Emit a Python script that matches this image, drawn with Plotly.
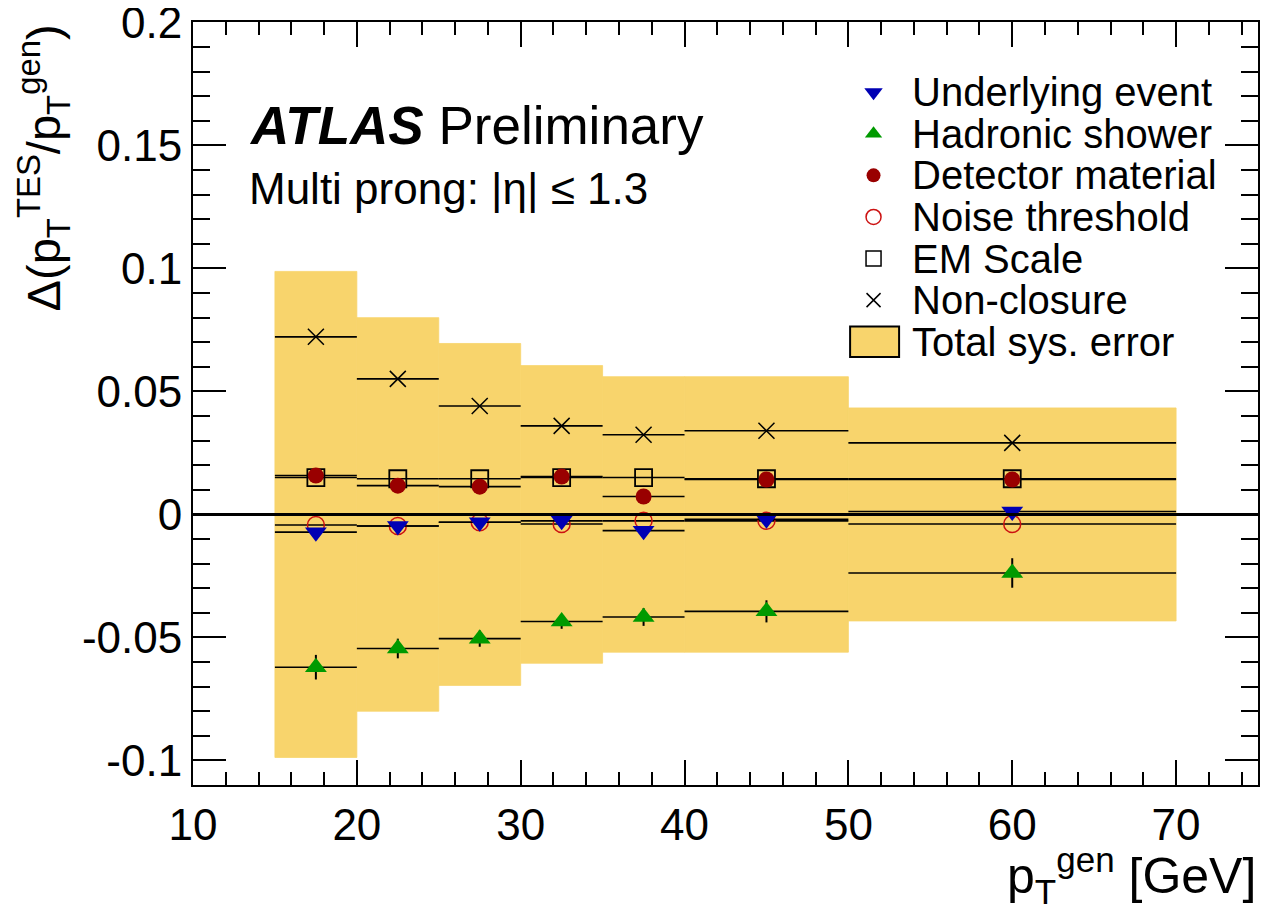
import plotly.graph_objects as go

# ---------------- data ----------------
pt_center = [17.5, 22.5, 27.5, 32.5, 37.5, 45.0, 60.0]
pt_halfwidth = [2.5, 2.5, 2.5, 2.5, 2.5, 5.0, 10.0]
pt_binwidth = [5, 5, 5, 5, 5, 10, 20]

total_sys = [0.0988, 0.0800, 0.0695, 0.0605, 0.0560, 0.0560, 0.0433]
underlying_event = [-0.0072, -0.0047, -0.0032, -0.0026, -0.0066, -0.0020, 0.0012]
hadronic_shower = [-0.0621, -0.0545, -0.0505, -0.0435, -0.0417, -0.0394, -0.0238]
hadronic_err = [0.0050, 0.0040, 0.0033, 0.0030, 0.0036, 0.0045, 0.0060]
detector_material = [0.0158, 0.0117, 0.0113, 0.0154, 0.0073, 0.0142, 0.0142]
noise_threshold = [-0.0043, -0.0047, -0.0032, -0.0039, -0.0026, -0.0026, -0.0039]
em_scale = [0.0150, 0.0145, 0.0145, 0.0150, 0.0150, 0.0145, 0.0145]
non_closure = [0.0722, 0.0551, 0.0441, 0.0360, 0.0324, 0.0340, 0.0291]

x_tickvals = [10, 20, 30, 40, 50, 60, 70]
x_ticktext = ["10", "20", "30", "40", "50", "60", "70"]
y_tickvals = [-0.1, -0.05, 0, 0.05, 0.1, 0.15, 0.2]
y_ticktext = ["-0.1", "-0.05", "0", "0.05", "0.1", "0.15", "0.2"]

legend_names = ["Underlying event", "Hadronic shower", "Detector material",
                "Noise threshold", "EM Scale", "Non-closure", "Total sys. error"]

# ---------------- style ----------------
FONT = "Liberation Sans, Arial, Helvetica, sans-serif"
BAND = "#f8d46c"
C_UE = "#0000b4"
C_HS = "#009a00"
C_DM = "#990000"
C_NT = "#cc1111"

fig = go.Figure()

# total systematic band
fig.add_trace(go.Bar(
    x=pt_center, y=[2 * v for v in total_sys], base=[-v for v in total_sys],
    width=pt_binwidth, marker=dict(color=BAND, line=dict(width=0.8, color=BAND)),
    showlegend=False, hoverinfo="skip"))

errx = dict(type="data", array=pt_halfwidth, symmetric=True, color="black",
            thickness=1.6, width=0)

def add_series(y, symbol, color, size, line_color=None, line_width=0, erry=None):
    kw = {}
    if erry is not None:
        kw["error_y"] = dict(type="data", array=erry, symmetric=True,
                             color="black", thickness=2, width=0)
    fig.add_trace(go.Scatter(
        x=pt_center, y=y, mode="markers",
        marker=dict(symbol=symbol, color=color, size=size,
                    line=dict(color=line_color or color, width=line_width)),
        error_x=errx, showlegend=False, **kw))

add_series(non_closure, "x-thin-open", "black", 16, "black", 1.5)
add_series(em_scale, "square-open", "black", 17, "black", 1.8)
add_series(detector_material, "circle", C_DM, 16)
add_series(noise_threshold, "circle-open", C_NT, 17, C_NT, 1.5)
add_series(underlying_event, "triangle-down", C_UE, 19)
add_series(hadronic_shower, "triangle-up", C_HS, 19, erry=hadronic_err)

# ---------------- hand-made legend (paper-fraction helper axes) ----------------
leg_x_key = 0.639
leg_x_text = 0.673
leg_y0 = 0.908
leg_dy = 0.0545
key_symbols = ["triangle-down", "triangle-up", "circle", "circle-open", "square-open", "x-thin-open"]
key_colors = [C_UE, C_HS, C_DM, C_NT, "black", "black"]
key_sizes = [16, 15, 14, 15, 15, 14]
for i, (sym, col, sz) in enumerate(zip(key_symbols, key_colors, key_sizes)):
    fig.add_trace(go.Scatter(
        x=[leg_x_key], y=[leg_y0 - i * leg_dy], xaxis="x2", yaxis="y2",
        mode="markers", showlegend=False, hoverinfo="skip",
        marker=dict(symbol=sym, color=col, size=sz,
                    line=dict(color=col, width=1.5 if "open" in sym else 0))))

annotations = []
for i, name in enumerate(legend_names):
    annotations.append(dict(
        x=leg_x_text, y=leg_y0 - i * leg_dy, xref="paper", yref="paper",
        text=name, showarrow=False, xanchor="left", yanchor="middle",
        font=dict(family=FONT, size=40, color="black")))

yb = leg_y0 - 6 * leg_dy
shapes = [
    dict(type="rect", xref="paper", yref="paper", x0=0.617, x1=0.663,
         y0=yb - 0.020, y1=yb + 0.020, fillcolor=BAND,
         line=dict(color="black", width=2), layer="above"),
    dict(type="line", xref="paper", yref="y", x0=0, x1=1, y0=0, y1=0,
         line=dict(color="black", width=3), layer="above"),
]

annotations += [
    dict(x=0.0507, y=0.864, xref="paper", yref="paper", xanchor="left", yanchor="middle",
         text="<b><i>ATLAS</i></b> Preliminary", showarrow=False,
         font=dict(family=FONT, size=53, color="black")),
    dict(x=0.0507, y=0.782, xref="paper", yref="paper", xanchor="left", yanchor="middle",
         text="Multi prong: |η| ≤ 1.3", showarrow=False,
         font=dict(family=FONT, size=44, color="black")),
    dict(x=1.0, y=-0.118, xref="paper", yref="paper", xanchor="right", yanchor="middle",
         text="p<sub>T</sub><sup>gen</sup> [GeV]", showarrow=False,
         font=dict(family=FONT, size=50, color="black")),
    dict(x=-0.14, y=1.0, xref="paper", yref="paper", xanchor="center", yanchor="top",
         text="Δ(p<sub>T</sub><sup>TES</sup>/p<sub>T</sub><sup>gen</sup>)", textangle=-90,
         showarrow=False, font=dict(family=FONT, size=47, color="black")),
]

fig.update_layout(
    width=1262, height=914,
    margin=dict(l=185, r=12, t=14, b=137, autoexpand=False),
    paper_bgcolor="white", plot_bgcolor="white",
    font=dict(family=FONT, size=44, color="black"),
    barmode="overlay",
    xaxis=dict(range=[10, 75], tickmode="array", tickvals=x_tickvals, ticktext=x_ticktext,
               ticks="inside", ticklen=25, tickwidth=1.5, tickcolor="black",
               minor=dict(dtick=2, tick0=10, ticks="inside", ticklen=13, tickwidth=1.5,
                          tickcolor="black"),
               showline=True, linecolor="black", linewidth=2, mirror="allticks",
               showgrid=False, zeroline=False, tickfont=dict(size=44), automargin=False,
               ticklabeloverflow="allow"),
    yaxis=dict(range=[-0.11, 0.2002], tickmode="array", tickvals=y_tickvals, ticktext=y_ticktext,
               ticks="inside", ticklen=33, tickwidth=1.5, tickcolor="black",
               minor=dict(dtick=0.01, tick0=0, ticks="inside", ticklen=17, tickwidth=1.5,
                          tickcolor="black"),
               showline=True, linecolor="black", linewidth=2, mirror="allticks",
               showgrid=False, zeroline=False, tickfont=dict(size=44), automargin=False,
               ticklabeloverflow="allow"),
    xaxis2=dict(range=[0, 1], overlaying="x", visible=False, anchor="y2"),
    yaxis2=dict(range=[0, 1], overlaying="y", visible=False, anchor="x2"),
    annotations=annotations,
    shapes=shapes,
    showlegend=False,
)

fig.write_html("out.html")
